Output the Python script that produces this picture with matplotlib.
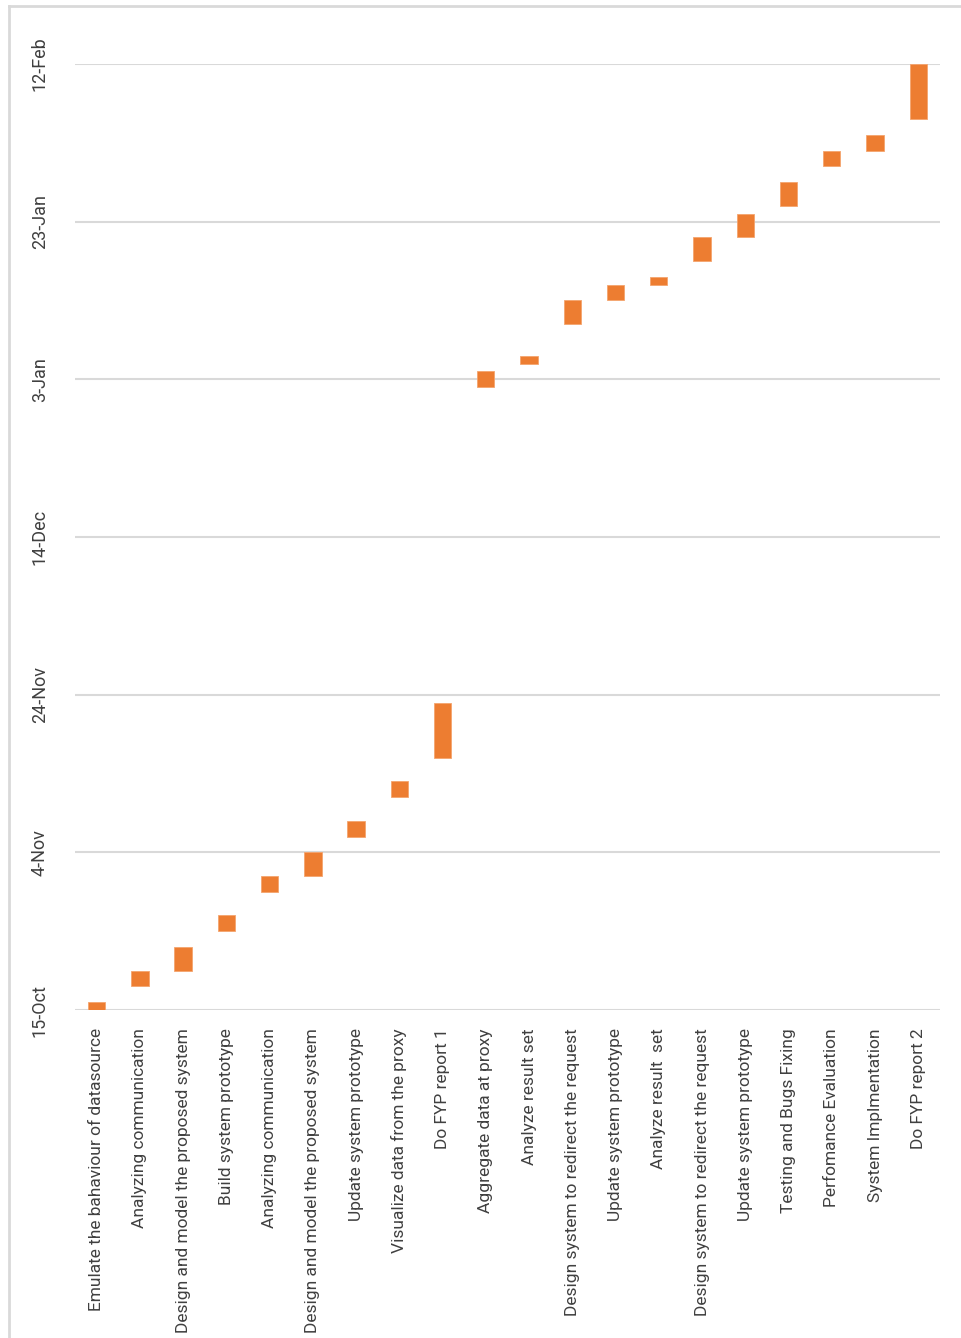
import matplotlib

matplotlib.use("Agg")
import matplotlib.dates as mdates
import matplotlib.pyplot as plt
import pandas as pd
from matplotlib.lines import Line2D

FONT = ["Liberation Sans Narrow", "Roboto", "DejaVu Sans"]

tasks = [
    "Emulate the bahaviour of datasource",
    "Analyzing communication",
    "Design and model the proposed system",
    "Build system prototype",
    "Analyzing communication",
    "Design and model the proposed system",
    "Update system prototype",
    "Visualize data from the proxy",
    "Do FYP report 1",
    "Aggregate data at proxy",
    "Analyze result set",
    "Design system to redirect the request",
    "Update system prototype",
    "Analyze result  set",
    "Design system to redirect the request",
    "Update system prototype",
    "Testing and Bugs Fixing",
    "Perfomance Evaluation",
    "System Implmentation",
    "Do FYP report 2",
]
start_dates = [
    "2019-10-15", "2019-10-18", "2019-10-20", "2019-10-25", "2019-10-30",
    "2019-11-01", "2019-11-06", "2019-11-11", "2019-11-16", "2020-01-02",
    "2020-01-05", "2020-01-10", "2020-01-13", "2020-01-15", "2020-01-18",
    "2020-01-21", "2020-01-25", "2020-01-30", "2020-02-01", "2020-02-05",
]
durations = [1, 2, 3, 2, 2, 3, 2, 2, 7, 2, 1, 3, 2, 1, 3, 3, 3, 2, 2, 7]
tick_dates = [
    "2019-10-15", "2019-11-04", "2019-11-24", "2019-12-14",
    "2020-01-03", "2020-01-23", "2020-02-12",
]

starts = mdates.date2num(pd.to_datetime(start_dates))
ticks = mdates.date2num(pd.to_datetime(tick_dates))

fig = plt.figure(figsize=(9.62, 13.38), dpi=100)
ax = fig.add_axes([0.078, 0.2451, 0.899, 0.7071])

x = list(range(len(tasks)))
ax.bar(x, durations, bottom=starts, width=0.4, color="#ED7D31",
       edgecolor="#F4A46E", linewidth=0.6, zorder=3)

ax.set_xlim(-0.5, len(tasks) - 0.5)
ax.set_ylim(ticks[0], ticks[-1])
ax.set_yticks(ticks)
ax.yaxis.set_major_formatter(mdates.DateFormatter("%-d-%b"))
ax.set_xticks(x)
ax.set_xticklabels(tasks, rotation=90, family=FONT, fontsize=12.5, color="#404040")
for lbl in ax.get_yticklabels():
    lbl.set_rotation(90)
    lbl.set_va("center")
    lbl.set_family(FONT)
    lbl.set_fontsize(13)
    lbl.set_color("#404040")

ax.tick_params(axis="x", length=0, pad=13)
ax.tick_params(axis="y", length=0, pad=19)
ax.grid(axis="y", color="#D9D9D9", linewidth=1.5, zorder=0)
ax.grid(axis="x", visible=False)
for side in ax.spines.values():
    side.set_visible(False)

# light frame lines along the top and left edges
fig.add_artist(Line2D([9 / 962, 9 / 962], [0, 1 - 6 / 1338], color="#D9D9D9", linewidth=2))
fig.add_artist(Line2D([9 / 962, 1], [1 - 6 / 1338, 1 - 6 / 1338], color="#D9D9D9", linewidth=2))

fig.savefig("out.png", dpi=100, facecolor="white")
